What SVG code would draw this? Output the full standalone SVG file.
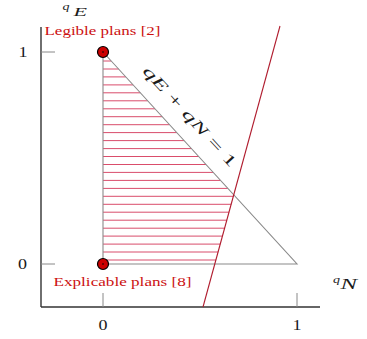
<svg xmlns="http://www.w3.org/2000/svg" width="367" height="339" viewBox="0 0 367 339">
<style>
.axis{stroke:#333;stroke-width:1.4;fill:none}
.tick{stroke:#888;stroke-width:1;fill:none}
.tri{stroke:#8a8a8a;stroke-width:1.1;fill:none}
.hatch{stroke:#d63a5c;stroke-width:1;opacity:0.9}
.redline{stroke:#b01c2e;stroke-width:1.1;fill:none}
.pt{fill:#cc0000;stroke:#000;stroke-width:1.2}
.lbl{font-family:'Liberation Serif','Times New Roman',Times,serif;font-size:14px;fill:#1a1a1a}
.red{font-family:'Liberation Serif','Times New Roman',Times,serif;font-size:13.5px;fill:#cc1111}
.it{font-style:italic}
</style>
<rect width="367" height="339" fill="#fff"/>
<g id="axes">
<line class="axis" x1="41" y1="27" x2="41" y2="307"/>
<line class="axis" x1="41" y1="307" x2="320" y2="307"/>
<line class="tick" x1="41" y1="52" x2="55" y2="52"/>
<line class="tick" x1="41" y1="264" x2="55" y2="264"/>
<line class="tick" x1="103" y1="293" x2="103" y2="307"/>
<line class="tick" x1="297" y1="293" x2="297" y2="307"/>
<text class="lbl" x="18.5" y="57" textLength="9" lengthAdjust="spacingAndGlyphs">1</text>
<text class="lbl" x="18" y="269" textLength="9" lengthAdjust="spacingAndGlyphs">0</text>
<text class="lbl" x="98.5" y="330" textLength="9" lengthAdjust="spacingAndGlyphs">0</text>
<text class="lbl" x="292.5" y="330" textLength="9" lengthAdjust="spacingAndGlyphs">1</text>
<text class="lbl it" x="62.5" y="10" style="font-size:11px" textLength="7" lengthAdjust="spacingAndGlyphs">q</text>
<text class="lbl it" x="73.5" y="15.5" style="font-size:13px" textLength="13.5" lengthAdjust="spacingAndGlyphs">E</text>
<text class="lbl it" x="333" y="283" style="font-size:11px" textLength="7" lengthAdjust="spacingAndGlyphs">q</text>
<text class="lbl it" x="340.5" y="289" style="font-size:14.5px" textLength="16.5" lengthAdjust="spacingAndGlyphs">N</text>
</g>
<g id="region">
<g class="hatch">
<line x1="103" y1="61" x2="111.2" y2="61"/>
<line x1="103" y1="69" x2="118.6" y2="69"/>
<line x1="103" y1="76.9" x2="125.8" y2="76.9"/>
<line x1="103" y1="84.9" x2="133.1" y2="84.9"/>
<line x1="103" y1="92.8" x2="140.3" y2="92.8"/>
<line x1="103" y1="100.8" x2="147.7" y2="100.8"/>
<line x1="103" y1="108.8" x2="155" y2="108.8"/>
<line x1="103" y1="116.7" x2="162.2" y2="116.7"/>
<line x1="103" y1="124.7" x2="169.5" y2="124.7"/>
<line x1="103" y1="132.6" x2="176.8" y2="132.6"/>
<line x1="103" y1="140.6" x2="184.1" y2="140.6"/>
<line x1="103" y1="148.6" x2="191.4" y2="148.6"/>
<line x1="103" y1="156.5" x2="198.6" y2="156.5"/>
<line x1="103" y1="164.5" x2="206" y2="164.5"/>
<line x1="103" y1="172.4" x2="213.2" y2="172.4"/>
<line x1="103" y1="180.4" x2="220.5" y2="180.4"/>
<line x1="103" y1="188.4" x2="227.8" y2="188.4"/>
<line x1="103" y1="196.3" x2="233.4" y2="196.3"/>
<line x1="103" y1="204.3" x2="231.2" y2="204.3"/>
<line x1="103" y1="212.2" x2="229.1" y2="212.2"/>
<line x1="103" y1="220.2" x2="226.9" y2="220.2"/>
<line x1="103" y1="228.2" x2="224.7" y2="228.2"/>
<line x1="103" y1="236.1" x2="222.5" y2="236.1"/>
<line x1="103" y1="244.1" x2="220.3" y2="244.1"/>
<line x1="103" y1="252" x2="218.1" y2="252"/>
<line x1="103" y1="260" x2="215.9" y2="260"/>
</g>
<polyline class="tri" points="103,52 103,264 297,264 103,52"/>
<g transform="translate(142,71.5) rotate(47.5)">
<text class="lbl" x="0" y="0" style="font-size:15px" textLength="131" lengthAdjust="spacingAndGlyphs"><tspan class="it">q</tspan><tspan class="it">E</tspan> + <tspan class="it">q</tspan><tspan class="it">N</tspan> = 1</text>
</g>
</g>
<g id="connectors">
<line class="redline" x1="280" y1="26" x2="203" y2="307"/>
</g>
<g id="legible">
<circle class="pt" cx="103" cy="52" r="5.5"/>
<circle cx="103" cy="52" r="0.8" fill="#000"/>
<text class="red" x="44.5" y="35" textLength="116" lengthAdjust="spacingAndGlyphs">Legible plans [2]</text>
</g>
<g id="explicable">
<circle class="pt" cx="103" cy="264" r="5.5"/>
<circle cx="103" cy="264" r="0.8" fill="#000"/>
<text class="red" x="53.5" y="286" textLength="138" lengthAdjust="spacingAndGlyphs">Explicable plans [8]</text>
</g>
</svg>
